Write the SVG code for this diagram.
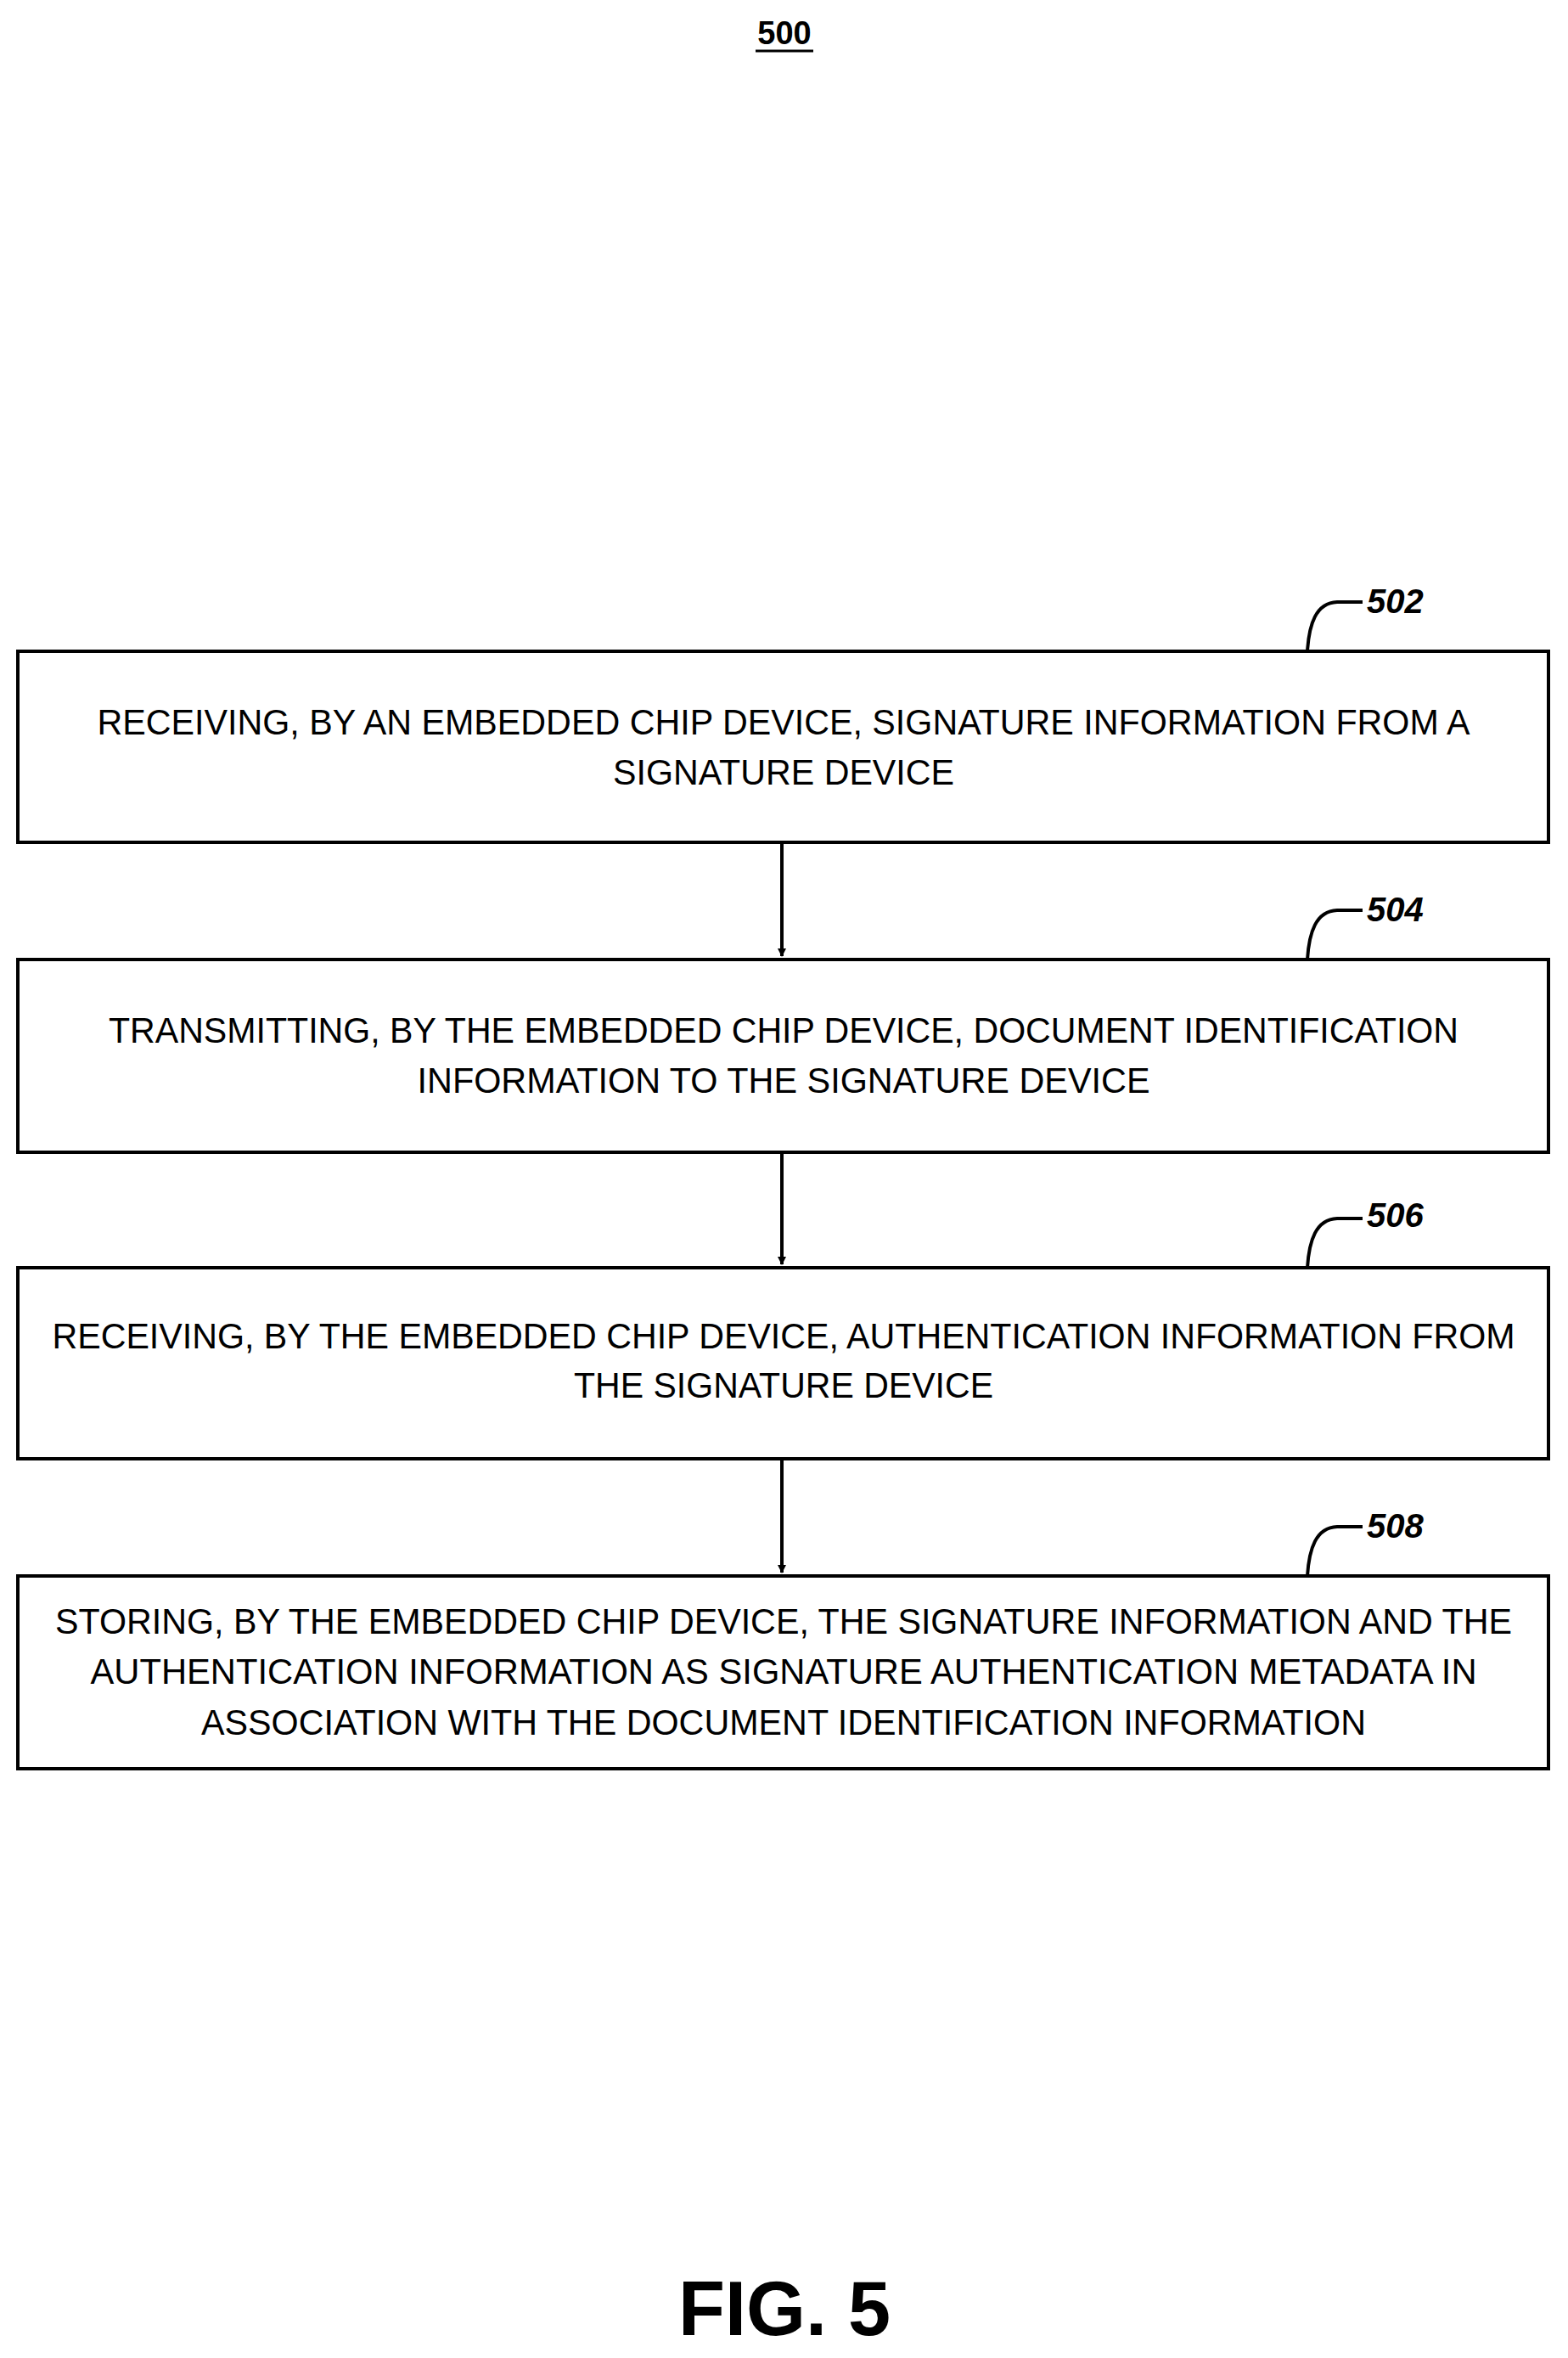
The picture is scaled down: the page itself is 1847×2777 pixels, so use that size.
<svg xmlns="http://www.w3.org/2000/svg" width="1847" height="2777" viewBox="0 0 1847 2777">
<defs>
<marker id="ah" markerWidth="10" markerHeight="10" refX="9" refY="5" orient="auto" markerUnits="userSpaceOnUse" viewBox="0 0 10 10"><path d="M0,0 L10,5 L0,10 Z" fill="#000"/></marker>
<style>
.box{fill:#fff;stroke:#000;stroke-width:4}
.t{font-family:"Liberation Sans",Arial,sans-serif;font-size:42px;text-anchor:middle;dominant-baseline:central;fill:#000}
.lbl{font-family:"Liberation Sans",Arial,sans-serif;font-size:40px;font-weight:bold;font-style:italic;fill:#000;dominant-baseline:central}
.ld{fill:none;stroke:#000;stroke-width:4}
.c{stroke:#000;stroke-width:4;fill:none}
</style>
</defs>
<rect width="1847" height="2777" fill="#fff"/>
<text x="924" y="39" font-family="Liberation Sans,Arial,sans-serif" font-size="38" font-weight="bold" text-anchor="middle" dominant-baseline="central">500</text>
<line x1="890" y1="60" x2="958" y2="60" stroke="#000" stroke-width="3"/>
<g id="n502">
<rect class="box" x="21" y="767" width="1803" height="225"/>
<text class="t" x="923" y="850" textLength="1617" lengthAdjust="spacingAndGlyphs">RECEIVING, BY AN EMBEDDED CHIP DEVICE, SIGNATURE INFORMATION FROM A</text>
<text class="t" x="923" y="909" textLength="402" lengthAdjust="spacingAndGlyphs">SIGNATURE DEVICE</text>
<path class="ld" d="M1540,767 C1542,735 1550,710 1575,709 L1605,709"/>
<text class="lbl" x="1610" y="708">502</text>
</g>
<g id="n504">
<rect class="box" x="21" y="1130" width="1803" height="227"/>
<text class="t" x="923" y="1213" textLength="1590" lengthAdjust="spacingAndGlyphs">TRANSMITTING, BY THE EMBEDDED CHIP DEVICE, DOCUMENT IDENTIFICATION</text>
<text class="t" x="923" y="1272" textLength="863" lengthAdjust="spacingAndGlyphs">INFORMATION TO THE SIGNATURE DEVICE</text>
<path class="ld" d="M1540,1130 C1542,1098 1550,1073 1575,1072 L1605,1072"/>
<text class="lbl" x="1610" y="1071">504</text>
</g>
<g id="n506">
<rect class="box" x="21" y="1493" width="1803" height="225"/>
<text class="t" x="923" y="1573" textLength="1723" lengthAdjust="spacingAndGlyphs">RECEIVING, BY THE EMBEDDED CHIP DEVICE, AUTHENTICATION INFORMATION FROM</text>
<text class="t" x="923" y="1631" textLength="494" lengthAdjust="spacingAndGlyphs">THE SIGNATURE DEVICE</text>
<path class="ld" d="M1540,1493 C1542,1461 1550,1436 1575,1435 L1605,1435"/>
<text class="lbl" x="1610" y="1431">506</text>
</g>
<g id="n508">
<rect class="box" x="21" y="1856" width="1803" height="227"/>
<text class="t" x="923" y="1909" textLength="1716" lengthAdjust="spacingAndGlyphs">STORING, BY THE EMBEDDED CHIP DEVICE, THE SIGNATURE INFORMATION AND THE</text>
<text class="t" x="923" y="1968" textLength="1633" lengthAdjust="spacingAndGlyphs">AUTHENTICATION INFORMATION AS SIGNATURE AUTHENTICATION METADATA IN</text>
<text class="t" x="923" y="2028" textLength="1372" lengthAdjust="spacingAndGlyphs">ASSOCIATION WITH THE DOCUMENT IDENTIFICATION INFORMATION</text>
<path class="ld" d="M1540,1856 C1542,1824 1550,1799 1575,1798 L1605,1798"/>
<text class="lbl" x="1610" y="1797">508</text>
</g>
<g id="connectors">
<line class="c" x1="921" y1="994" x2="921" y2="1126" marker-end="url(#ah)"/>
<line class="c" x1="921" y1="1359" x2="921" y2="1489" marker-end="url(#ah)"/>
<line class="c" x1="921" y1="1720" x2="921" y2="1852" marker-end="url(#ah)"/>
</g>
<text x="924" y="2719" font-family="Liberation Sans,Arial,sans-serif" font-size="90" font-weight="bold" text-anchor="middle" dominant-baseline="central">FIG. 5</text>
</svg>
